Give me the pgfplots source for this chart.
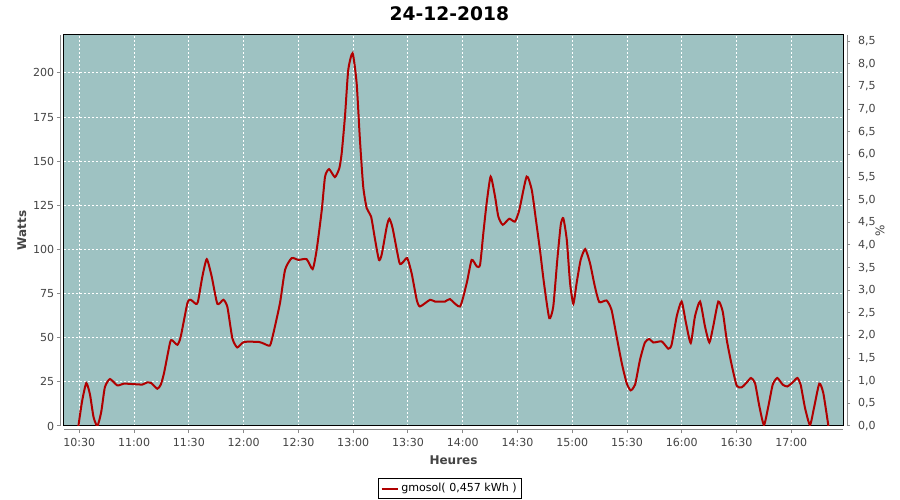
\documentclass[border=0pt]{standalone}
\usepackage{fontspec}
\setmainfont{DejaVu Sans}
\usepackage{pgfplots}
\pgfplotsset{compat=1.18}
\definecolor{plotbg}{HTML}{9EC2C2}
\definecolor{curve}{HTML}{B00000}
\definecolor{ticktxt}{HTML}{444444}
\definecolor{axgray}{HTML}{8A8A8A}

\newcommand\tickfont{\fontsize{8.3}{10}\selectfont}

\pgfplotsset{
  common/.style={
    at={(48pt,55.5pt)}, anchor=south west,
    scale only axis, width=584.25pt, height=293.25pt,
    xmin=621.6, xmax=1048.3,
    tick align=outside, major tick length=2.25pt,
    tick style={axgray, line width=0.75pt},
    tick label style={font=\tickfont, text=ticktxt},
    /pgf/number format/assume math mode=true,
  },
}

\begin{document}
\begin{tikzpicture}
\path[use as bounding box, fill=white] (0,0) rectangle (675pt,375pt);

% power curve, left axis
\begin{axis}[
    common, name=main,
    ymin=0, ymax=221.5,
    axis background/.style={fill=plotbg},
    axis line style={black, line width=0.75pt},
    grid=major,
    grid style={white, line width=0.75pt, dash pattern=on 1.5pt off 1.5pt},
    xtick={630,660,...,1020},
    xticklabels={10:30,11:00,11:30,12:00,12:30,13:00,13:30,14:00,14:30,15:00,15:30,16:00,16:30,17:00},
    ytick={0,25,...,200},
    xtick pos=bottom, ytick pos=left,
    xtick style={yshift=-3pt}, ytick style={xshift=-3pt},
    xticklabel style={yshift=-3.2pt},
    yticklabel style={xshift=-1.6pt},
    xlabel={Heures}, ylabel={Watts},
    xlabel style={at={(axis description cs:0.5,-0.0997)}, anchor=base,
      font=\bfseries\fontsize{9}{11}\selectfont, text=ticktxt},
    ylabel style={at={(axis description cs:-0.054,0.5)}, anchor=center,
      font=\bfseries\fontsize{9}{11}\selectfont, text=ticktxt},
    legend style={at={(axis description cs:0.4955,-0.16)}, anchor=center,
      draw=black, line width=0.75pt, font=\tickfont, inner sep=1.5pt},
    legend image code/.code={\draw[#1] (0pt,0pt) -- (12pt,0pt);},
  ]
  \addplot[curve, line width=1.5pt, smooth, tension=0.35] coordinates {
    (629.5,0) (631.5,14) (633.8,24.3) (635.8,18) (637.8,5) (639.9,0)
    (642,8) (644,22) (646.8,26.6) (650.8,23.0) (654.5,24) (660,23.7)
    (664.5,23.5) (667.2,24.7) (669.4,24.3) (672.7,21.1) (674.6,23.4)
    (676.4,30) (679.7,47.3) (680.9,48.5) (683.7,46) (685.5,50.4)
    (689.2,69.6) (691,71.5) (693.8,69.2) (695,70.5) (697.4,84.7)
    (699.8,94.5) (702.5,84.7) (705.6,69.2) (708.9,71.5) (711.1,67.4)
    (713.8,49.8) (716.5,44.5) (720.2,47.6) (728.4,47.6) (731.2,46.6)
    (734.4,45.6) (736.3,52.6) (739.9,69.6) (742.7,88.5) (746.3,95.1)
    (750,94.1) (754.5,94.5) (757.8,88.9) (760,99.8) (762.8,122.4)
    (764.6,141.3) (766.8,145.5) (770,141) (772.4,146) (773.7,154.5)
    (775.5,175.3) (777.3,201.7) (779.7,211.2) (781.9,194.2) (783.7,162.1)
    (785.5,135.6) (787.4,123.4) (789.8,118.7) (792,105.5) (794.1,94.1)
    (795.6,97) (798.4,113) (799.8,117.4) (801.6,112.1) (805.3,92.6)
    (807.1,92.6) (809.6,95.1) (812,86.6) (814.8,71.5) (816.6,67.7)
    (822.1,71.5) (824.8,70.5) (830.3,70.5) (833,71.9) (838.5,67.7)
    (842.2,81) (844.9,94.1) (847.7,90.4) (849.5,91.3) (851.3,109.3)
    (853.1,126.2) (855.3,141.3) (857.7,130) (859.5,118.7) (861.9,114)
    (865.5,117.4) (868.6,115.8) (871,122.4) (875,141.3) (877.8,133.8)
    (880.1,116.8) (882.3,99.8) (884.5,81) (887.4,61.1) (889.6,67.7)
    (891.8,94.1) (893.7,114) (895.1,117.7) (897,105.5) (898.8,81)
    (900.6,69.2) (902.4,81) (904.6,94.1) (907.1,100.2) (909.7,92.3)
    (912.4,79) (914.8,70.2) (918.8,71.1) (921.5,65.8) (924.3,50.7)
    (927.1,35.7) (929.8,24.3) (932,20.2) (934.4,23.4) (937.1,37.5)
    (939.8,47.3) (942.2,49.3) (944.4,47.3) (949,47.9) (952.6,43.8)
    (954.4,46) (957.2,62) (959.9,70.5) (962.3,58.3) (964.9,47)
    (967.2,62) (970,70.5) (972.7,56.4) (975.1,47.3) (977.2,56.4)
    (980,70.5) (982.4,64.9) (984.6,48.9) (987.3,34.7) (990.1,22.8)
    (992.8,21.9) (995.6,24.7) (997.9,27.2) (1000.1,24.3) (1002.5,11.1)
    (1005,0.5) (1007.4,11.1) (1009.8,23.4) (1012.3,27.2) (1015.3,23.4)
    (1017.8,22.4) (1020.7,24.7) (1023.3,27.2) (1025.1,23.4) (1027.5,10.2)
    (1030.2,0.5) (1032.4,10.2) (1035.3,24) (1037.5,18.7) (1040.3,0)
  };
  \addlegendentry{gmosol( 0,457 kWh )}
\end{axis}

% percentage scale, right axis
\begin{axis}[
    common,
    ymin=0, ymax=8.64,
    axis x line=none, axis y line*=right,
    axis line style={black, line width=0.75pt},
    ytick={0,0.5,1,1.5,2,2.5,3,3.5,4,4.5,5,5.5,6,6.5,7,7.5,8,8.5},
    ytick style={xshift=3pt},
    yticklabel style={xshift=5.5pt,
      /pgf/number format/.cd, fixed, fixed zerofill, precision=1, use comma},
    ylabel={\%},
    ylabel style={at={(axis description cs:1.0475,0.5)}, anchor=center,
      font=\fontsize{9}{11}\selectfont, text=ticktxt},
  ]
  \addplot[draw=none] coordinates {(630,0) (1020,8)};
\end{axis}

\draw[axgray, line width=0.75pt]
  ([yshift=-3pt]main.south west) -- ([yshift=-3pt]main.south east)
  ([xshift=-3pt]main.south west) -- ([xshift=-3pt]main.north west)
  ([xshift=3.5pt]main.south east) -- ([xshift=3.5pt]main.north east);

\node[anchor=base, inner sep=0pt, font=\bfseries\fontsize{14}{16}\selectfont]
  at (337pt,359.25pt) {24-12-2018};
\end{tikzpicture}
\end{document}
